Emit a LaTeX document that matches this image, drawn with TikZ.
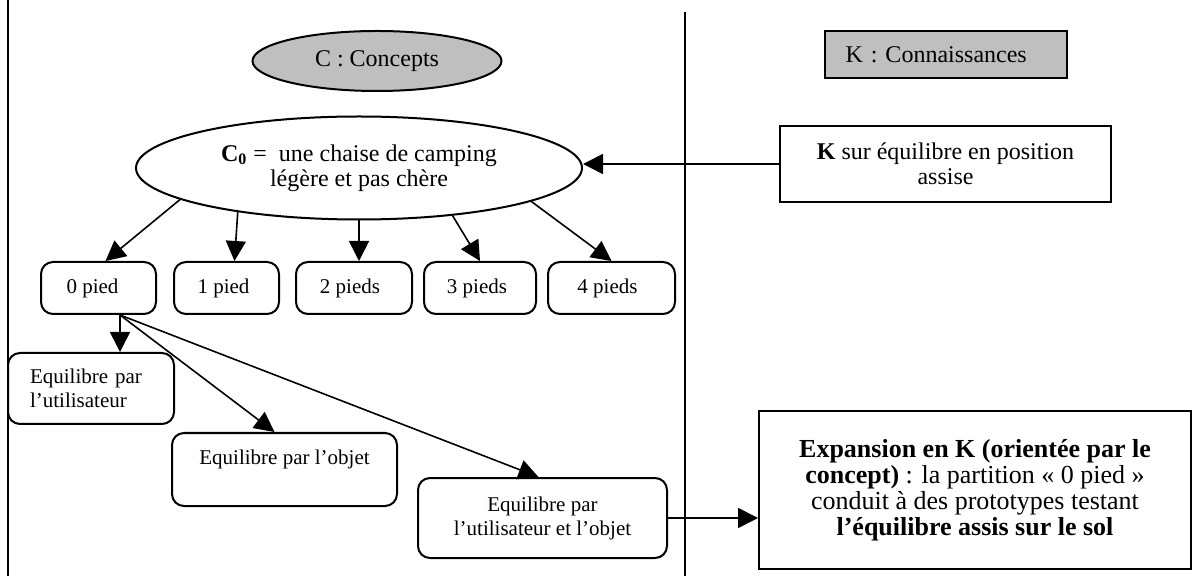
\documentclass[tikz,border=0pt]{standalone}
\usepackage{fontspec}
\setmainfont{Liberation Serif}
\usetikzlibrary{shapes.geometric,arrows.meta,positioning}

\begin{document}
\begin{tikzpicture}[x=0.5pt,y=-0.5pt,line width=1pt,>={Triangle[length=10pt,width=10pt]},
    big/.style={font=\fontsize{12}{12.5}\selectfont},
    small/.style={font=\fontsize{10.5}{12}\selectfont},
    concept/.style={ellipse,draw,inner sep=0pt,align=center,big},
    krect/.style={rectangle,draw,inner sep=0pt,align=center,big},
    pbox/.style={rectangle,rounded corners=6pt,draw,inner sep=0pt,align=center,small,minimum height=26pt}]
    \useasboundingbox (0,0) rectangle (1192,576);
    % cadre
    \draw (8,0) -- (8,576);
    \draw (685,12) -- (685,576);
    % titres
    \node[concept,fill=black!25,minimum width=124.5pt,minimum height=30pt] (cc) at (377,61) {C : Concepts};
    \node[krect,fill=black!25,inner xsep=10.5pt,text width=100pt,align=left,minimum height=23.5pt] (kc) at (945.5,54.5) {K : Connaissances};
    % C0 et K
    \node[concept,minimum width=223pt,minimum height=51.5pt] (c0) at (359,168) {\textbf{C\textsubscript{0}} =~ une chaise de camping\\légère et pas chère};
    \node[krect,minimum width=165.5pt,minimum height=38pt] (kb) at (945.5,164) {\textbf{K} sur équilibre en position\\assise};
    % partitions
    \node[pbox,minimum width=57.5pt] (p0) at (98.5,288) {0 pied\hspace{6pt}};
    \node[pbox,minimum width=52.5pt,right=8pt of p0] (p1) {1 pied\hspace{3pt}};
    \node[pbox,minimum width=58pt,right=7.5pt of p1] (p2) {2 pieds\hspace{4pt}};
    \node[pbox,minimum width=56pt,right=5pt of p2] (p3) {3 pieds\hspace{3pt}};
    \node[pbox,minimum width=63.5pt,right=5pt of p3] (p4) {4 pieds\hspace{4pt}};
    \node[pbox,align=left,inner xsep=11pt,text width=61pt,minimum height=35.5pt] (eu) at (91,388.5) {Equilibre par\\l'utilisateur};
    \node[pbox,minimum width=112.5pt,minimum height=36.5pt] (eo) at (284.5,469.5) {Equilibre par l'objet\\~};
    \node[pbox,minimum width=124.5pt,minimum height=40pt] (euo) at (542.5,518) {Equilibre par\\l'utilisateur et l'objet};
    % expansion
    \node[krect,font=\fontsize{13}{13}\selectfont,minimum width=216pt,minimum height=79pt] (ex) at (975,490) {\textbf{Expansion en K (orientée par le}\\\textbf{concept)} : la partition « 0 pied »\\conduit à des prototypes testant\\\textbf{l'équilibre assis sur le sol}};
    \path[->,line width=0.8pt]
    (c0.190) edge ([xshift=3.5pt]p0.north)
    (c0.200) edge ([xshift=4pt]p1.north)
    (c0.south) edge (c0.south |- p2.north)
    (c0.-27) edge (p3.north)
    (c0.-11) edge (p4.north)
    (kb.west) edge (kb.west -| c0.east)
    ;
    \coordinate (p0s) at ([xshift=10.75pt]p0.south);
    \path[->,line width=0.8pt]
    (p0s) edge (p0s |- eu.north)
          edge ([xshift=-5pt]eo.north)
          edge ([xshift=-2pt]euo.north)
    (euo.east) edge (euo.east -| ex.west)
    ;
\end{tikzpicture}
\end{document}
